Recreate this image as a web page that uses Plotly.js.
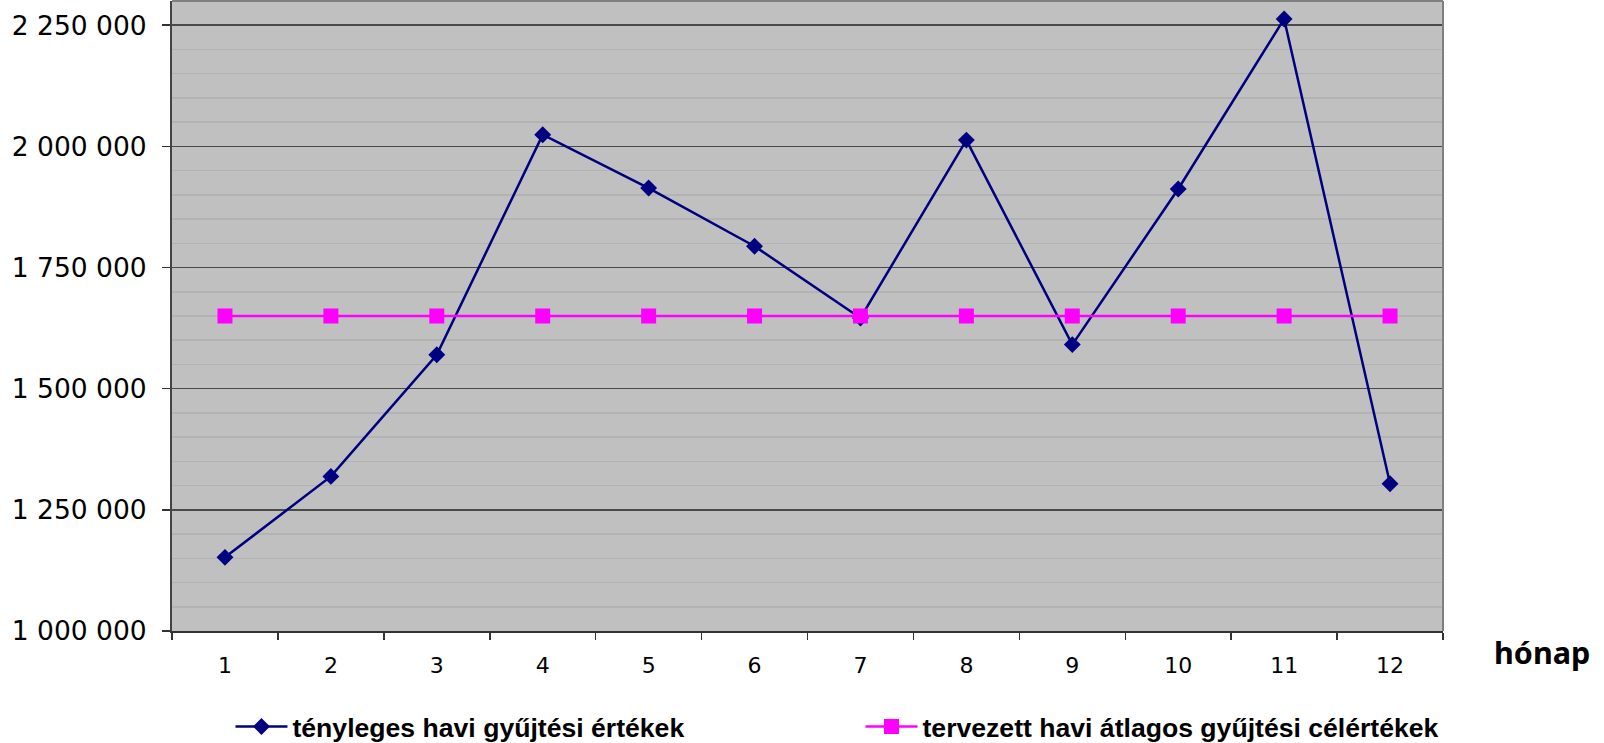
<!DOCTYPE html>
<html>
<head>
<meta charset="utf-8">
<script src="https://cdn.plot.ly/plotly-3.0.1.min.js"></script>
<style>html,body{margin:0;padding:0;background:#fff;}#chart{width:1604px;height:743px;}</style>
</head>
<body>
<div id="chart"></div>
<script>
const months = ['1','2','3','4','5','6','7','8','9','10','11','12'];
const actualValues = [1152000, 1319000, 1570000, 2024000, 1914000, 1794000, 1646000, 2013000, 1591000, 1912000, 2263000, 1304000];
const targetValues = [1650000, 1650000, 1650000, 1650000, 1650000, 1650000, 1650000, 1650000, 1650000, 1650000, 1650000, 1650000];
const actualName = 'tényleges havi gyűjtési értékek';
const targetName = 'tervezett havi átlagos gyűjtési célértékek';
const xAxisLabel = 'hónap';

const traces = [
  {
    x: months, y: actualValues, name: actualName, type: 'scatter', mode: 'lines+markers',
    line: {color: '#000080', width: 2.5},
    marker: {symbol: 'diamond', size: 13, color: '#000080'},
    legend: 'legend'
  },
  {
    x: months, y: targetValues, name: targetName, type: 'scatter', mode: 'lines+markers',
    line: {color: '#ff00ff', width: 2.5},
    marker: {symbol: 'square', size: 15, color: '#ff00ff'},
    legend: 'legend2'
  }
];

const legendFont = {family: 'Liberation Sans', size: 26.6, color: '#000000', weight: 'bold'};

const layout = {
  width: 1604, height: 743,
  margin: {l: 172, r: 161, t: 1, b: 112, autoexpand: false},
  paper_bgcolor: '#ffffff',
  plot_bgcolor: '#c0c0c0',
  separators: '. ',
  showlegend: true,
  font: {family: 'DejaVu Sans', color: '#000000'},
  xaxis: {
    type: 'category',
    tickson: 'boundaries',
    ticks: 'outside', ticklen: 7, tickwidth: 1.5, tickcolor: '#333333',
    showline: true, linecolor: '#333333', linewidth: 2,
    showgrid: false, zeroline: false,
    tickfont: {family: 'DejaVu Sans', size: 22, color: '#000000'},
    ticklabelstandoff: 14,
    range: [-0.5, 11.5]
  },
  yaxis: {
    range: [1000000, 2300000],
    dtick: 250000, tick0: 1000000,
    tickformat: ',d',
    ticks: 'outside', ticklen: 8, tickwidth: 1.5, tickcolor: '#333333',
    showline: true, linecolor: '#444444', linewidth: 2,
    showgrid: true, gridcolor: '#4a4a4a', gridwidth: 1.5,
    zeroline: false,
    minor: {dtick: 50000, showgrid: true, gridcolor: '#b3b3b3', gridwidth: 1.5},
    tickfont: {family: 'DejaVu Sans', size: 26.5, color: '#000000'},
    ticklabelstandoff: 10
  },
  legend: {
    orientation: 'h',
    x: 0.046, xanchor: 'left',
    y: -0.152, yanchor: 'middle',
    font: legendFont,
    itemwidth: 52,
    bgcolor: 'rgba(0,0,0,0)'
  },
  legend2: {
    orientation: 'h',
    x: 0.5417, xanchor: 'left',
    y: -0.152, yanchor: 'middle',
    font: legendFont,
    itemwidth: 52,
    bgcolor: 'rgba(0,0,0,0)'
  },
  shapes: [
    {type: 'line', xref: 'paper', yref: 'paper', x0: 0, x1: 1, y0: 1, y1: 1, line: {color: '#808080', width: 2}},
    {type: 'line', xref: 'paper', yref: 'paper', x0: 1, x1: 1, y0: 0, y1: 1, line: {color: '#808080', width: 2}}
  ],
  annotations: [
    {text: xAxisLabel, xref: 'paper', yref: 'paper', x: 1.078, y: -0.033, xanchor: 'center', yanchor: 'middle',
     showarrow: false, font: {family: 'Noto Sans', size: 30.5, color: '#000000', weight: 'bold'}}
  ]
};

Plotly.newPlot('chart', traces, layout, {displayModeBar: false, staticPlot: true});
</script>
</body>
</html>
